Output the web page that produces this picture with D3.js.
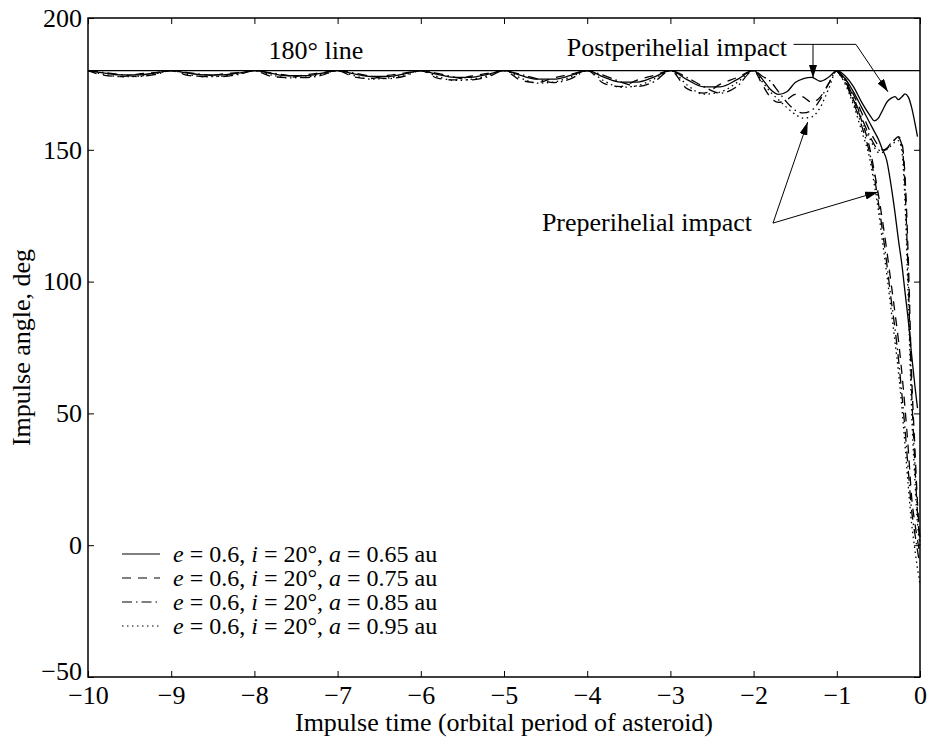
<!DOCTYPE html>
<html lang="en">
<head>
<meta charset="utf-8">
<script src="https://d3js.org/d3.v7.min.js"></script>
<style>
  body { margin: 0; background: #fff; }
  svg text { font-family: "Liberation Serif", "Times New Roman", serif; fill: #000; }
</style>
</head>
<body>
<script>
// impulse time grid (orbital periods), oscillating part
var timeGrid = [-10, -9.8, -9.6, -9.4, -9.2, -9, -8.8, -8.6, -8.4, -8.2, -8, -7.8, -7.6, -7.4, -7.2,
  -7, -6.8, -6.6, -6.4, -6.2, -6, -5.8, -5.6, -5.4, -5.2, -5, -4.8, -4.6, -4.4, -4.2,
  -4, -3.8, -3.6, -3.4, -3.2, -3, -2.8, -2.6, -2.4, -2.2,
  -2, -1.9, -1.8, -1.7, -1.6, -1.5, -1.4, -1.3, -1.2, -1.1, -1];

var angleA065 = [180, 179.1, 178.4, 178.4, 179.1, 180, 179.1, 178.4, 178.4, 179.1,
  180, 179.0, 178.1, 178.1, 179.0, 180, 178.8, 177.8, 177.8, 178.8,
  180, 178.6, 177.5, 177.5, 178.6, 180, 178.2, 176.8, 176.8, 178.2,
  180, 177.6, 175.7, 175.7, 177.6, 180, 176.6, 173.9, 173.9, 176.6,
  180, 177, 173, 171, 172, 175.5, 177, 177.5, 176, 177.5, 180];
var angleA075 = [180, 178.2, 177.8, 178.7, 179.3, 180, 178.2, 177.8, 178.7, 179.3,
  180, 177.9, 177.4, 178.4, 179.2, 180, 177.6, 177.0, 178.2, 179.1,
  180, 177.2, 176.5, 177.9, 179.0, 180, 176.4, 175.5, 177.3, 178.6,
  180, 175.2, 174.0, 176.4, 178.2, 180, 173.2, 171.5, 174.9, 177.4,
  180, 175, 170, 168, 169, 171, 170, 168, 170, 175, 180];
var angleA085 = [180, 179.3, 178.5, 177.8, 178.5, 180, 179.3, 178.5, 177.8, 178.5,
  180, 179.2, 178.2, 177.4, 178.2, 180, 179.1, 177.9, 177.0, 177.9,
  180, 179.0, 177.6, 176.5, 177.6, 180, 178.6, 176.9, 175.5, 176.9,
  180, 178.2, 175.8, 174.0, 175.8, 180, 177.4, 174.0, 171.5, 174.0,
  180, 178, 176, 172, 168, 165, 164, 165, 169, 175, 180];
var angleA095 = [180, 178.6, 177.7, 177.9, 178.8, 180, 178.6, 177.7, 177.9, 178.8,
  180, 178.4, 177.3, 177.5, 178.6, 180, 178.1, 176.8, 177.2, 178.4,
  180, 177.8, 176.3, 176.7, 178.1, 180, 177.2, 175.3, 175.7, 177.6,
  180, 176.2, 173.7, 174.3, 176.8, 180, 174.6, 171.1, 171.9, 175.5,
  180, 176, 172, 169, 166, 163.5, 162, 162.5, 166, 173, 180];

// last orbit before impact
var tailTime = [-0.9, -0.8, -0.7, -0.6, -0.55, -0.5, -0.45, -0.4, -0.35, -0.3, -0.26, -0.22, -0.18, -0.14, -0.1, -0.06, -0.03, -0.01, 0];
var tailA065 = [178, 174, 168, 163, 161, 162, 165, 168, 169.5, 170.2, 169, 170, 171.2, 170, 166, 160, 155, null, null];
var dropA065 = [177, 172, 166, 160, 157, 154, 150, 146, 137, 126, 116, 107, 96, 85, 72, 60, 52, null, null];
var tailA075 = [177, 171, 164, 157, 154, 151.5, 150, 150.5, 152, 154, 155, 153, 140, 108, 64, 36, 16, 6, 3];
var dropA075 = [176, 169, 161, 150, 142, 133, 123, 112, 100, 88, 78, 66, 52, 36, 18, 8, 2, -2, null];
var tailA085 = [176.5, 170, 162, 155, 152, 150, 149.5, 150.5, 152.5, 154, 154.5, 152, 136, 100, 58, 30, 12, 4, 1];
var dropA085 = [175.5, 168, 159, 148, 140, 130, 119, 107, 94, 82, 71, 58, 44, 28, 13, 4, -2, -6, null];
var tailA095 = [176, 169, 161, 154, 151, 149, 149, 150, 151.5, 153, 153.5, 150, 130, 92, 50, 24, 8, 2, 0];
var dropA095 = [175, 167, 157, 146, 137, 127, 115, 103, 90, 77, 66, 53, 38, 22, 8, -2, -9, -13, -15];

var legendLabels = ["0.65", "0.75", "0.85", "0.95"];
var xTicks = [-10, -9, -8, -7, -6, -5, -4, -3, -2, -1, 0];
var yTicks = [-50, 0, 50, 100, 150, 200];

var width = 932, height = 738;
var margin = {left: 88, right: 12, top: 18, bottom: 61};
var fontSize = "26px";

var svg = d3.select("body").append("svg")
  .attr("width", width)
  .attr("height", height)
  .attr("font-family", "Liberation Serif, Times New Roman, serif");

var x = d3.scaleLinear().domain([-10, 0]).range([margin.left, width - margin.right]);
var y = d3.scaleLinear().domain([-50, 200]).range([height - margin.bottom, margin.top]);

var fmt = function(d) { return d < 0 ? "\u2212" + Math.abs(d) : d; };

// axes with inward ticks
var gx = svg.append("g").attr("transform", "translate(0," + y(-50) + ")")
  .call(d3.axisBottom(x).tickValues(xTicks).tickSizeInner(-6).tickSizeOuter(0).tickPadding(9).tickFormat(fmt));
var gxt = svg.append("g").attr("transform", "translate(0," + y(200) + ")")
  .call(d3.axisTop(x).tickValues(xTicks).tickSizeInner(-6).tickSizeOuter(0).tickFormat(""));
var gy = svg.append("g").attr("transform", "translate(" + x(-10) + ",0)")
  .call(d3.axisLeft(y).tickValues(yTicks).tickSizeInner(-6).tickSizeOuter(0).tickPadding(6).tickFormat(fmt));
var gyr = svg.append("g").attr("transform", "translate(" + x(0) + ",0)")
  .call(d3.axisRight(y).tickValues(yTicks).tickSizeInner(-6).tickSizeOuter(0).tickFormat(""));

[gx, gxt, gy, gyr].forEach(function(g) {
  g.attr("font-family", null).attr("font-size", null);
  g.select(".domain").remove();
  g.selectAll("line").attr("stroke", "#000").attr("stroke-width", 1);
  g.selectAll("text").style("font-size", fontSize).attr("fill", "#000");
});
// lift the bottom y label a little off the x labels
gy.selectAll(".tick").filter(function(d) { return d === -50; })
  .select("text").attr("dy", "0.1em");

svg.append("rect")
  .attr("x", x(-10)).attr("y", y(200))
  .attr("width", x(0) - x(-10)).attr("height", y(-50) - y(200))
  .attr("fill", "none").attr("stroke", "#000").attr("stroke-width", 1.5);

// 180 deg reference line
svg.append("line")
  .attr("x1", x(-10)).attr("x2", x(0))
  .attr("y1", y(180)).attr("y2", y(180))
  .attr("stroke", "#000").attr("stroke-width", 1.2);

var line = d3.line()
  .defined(function(d) { return d[1] !== null; })
  .x(function(d) { return x(d[0]); })
  .y(function(d) { return y(d[1]); })
  .curve(d3.curveMonotoneX);

var series = [
  {main: angleA065, tail: tailA065, drop: dropA065, dash: null},
  {main: angleA075, tail: tailA075, drop: dropA075, dash: "9,7"},
  {main: angleA085, tail: tailA085, drop: dropA085, dash: "10,4,1.5,4"},
  {main: angleA095, tail: tailA095, drop: dropA095, dash: "1.5,3.5"}
];

var plot = svg.append("g");
series.forEach(function(s) {
  var pts = timeGrid.map(function(t, i) { return [t, s.main[i]]; });
  var last = pts[pts.length - 1];
  var tail = tailTime.map(function(t, i) { return [t, s.tail[i]]; });
  var drop = [last].concat(tailTime.map(function(t, i) { return [t, s.drop[i]]; }));
  [pts.concat(tail), drop].forEach(function(p) {
    plot.append("path")
      .attr("d", line(p))
      .attr("fill", "none")
      .attr("stroke", "#000")
      .attr("stroke-width", 1.3)
      .attr("stroke-dasharray", s.dash);
  });
});

// axis titles
svg.append("text")
  .attr("x", (x(-10) + x(0)) / 2).attr("y", 731)
  .attr("text-anchor", "middle").style("font-size", fontSize)
  .text("Impulse time (orbital period of asteroid)");
svg.append("text")
  .attr("transform", "translate(30," + y(75) + ") rotate(-90)")
  .attr("text-anchor", "middle").style("font-size", fontSize)
  .text("Impulse angle, deg");

svg.append("text")
  .attr("x", x(-7.26)).attr("y", 59)
  .attr("text-anchor", "middle").style("font-size", fontSize)
  .text("180\u00b0 line");

// annotations
svg.append("defs").append("marker")
  .attr("id", "arr").attr("viewBox", "0 0 13 8")
  .attr("refX", 13).attr("refY", 4)
  .attr("markerWidth", 13).attr("markerHeight", 8)
  .attr("markerUnits", "userSpaceOnUse")
  .attr("orient", "auto")
  .append("path").attr("d", "M0,0L13,4L0,8Z").attr("fill", "#000");

svg.append("text")
  .attr("x", 787).attr("y", 56)
  .attr("text-anchor", "end").style("font-size", fontSize)
  .text("Postperihelial impact");
svg.append("text")
  .attr("x", 752).attr("y", 231)
  .attr("text-anchor", "end").style("font-size", fontSize)
  .text("Preperihelial impact");

function arrow(x1, y1, x2, y2) {
  svg.append("line")
    .attr("x1", x1).attr("y1", y1).attr("x2", x2).attr("y2", y2)
    .attr("stroke", "#000").attr("stroke-width", 1)
    .attr("marker-end", "url(#arr)");
}
// postperihelial: bracket line with two arrows
svg.append("path")
  .attr("d", "M" + x(-1.52) + "," + y(190) + "H" + x(-0.77))
  .attr("stroke", "#000").attr("stroke-width", 1).attr("fill", "none");
arrow(x(-1.286), y(190), x(-1.286), y(177.2));
arrow(x(-0.77), y(190), x(-0.385), y(172));
// preperihelial
arrow(x(-1.767), y(122.2), x(-1.35), y(160.5));
arrow(x(-1.767), y(122.2), x(-0.505), y(134));

// legend
var legend = svg.append("g").attr("transform", "translate(122,554)");
legendLabels.forEach(function(a, i) {
  var g = legend.append("g").attr("transform", "translate(0," + (i * 24) + ")");
  g.append("line").attr("x1", 0).attr("x2", 38).attr("y1", 0).attr("y2", 0)
    .attr("stroke", "#000").attr("stroke-width", 1.2)
    .attr("stroke-dasharray", series[i].dash);
  var t = g.append("text").attr("x", 51).attr("y", 8).style("font-size", "24px");
  t.append("tspan").style("font-style", "italic").text("e");
  t.append("tspan").text(" = 0.6, ");
  t.append("tspan").style("font-style", "italic").text("i");
  t.append("tspan").text(" = 20\u00b0, ");
  t.append("tspan").style("font-style", "italic").text("a");
  t.append("tspan").text(" = " + a + " au");
});
</script>
</body>
</html>
